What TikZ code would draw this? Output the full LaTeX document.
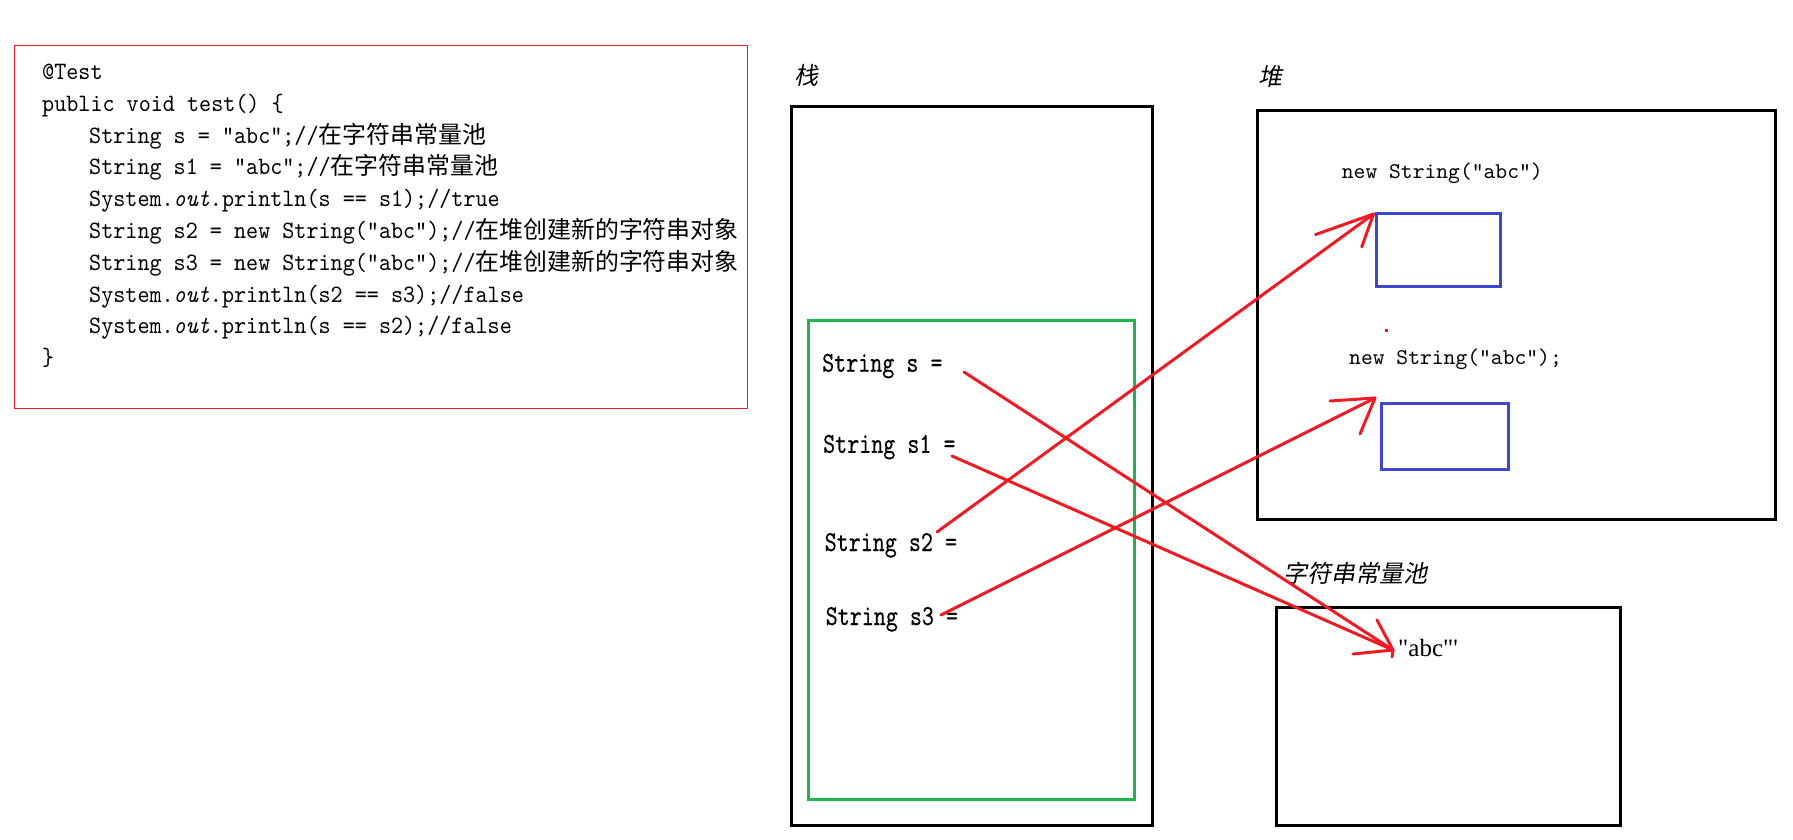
\documentclass[tikz,border=0pt]{standalone}
\usepackage{fontspec}
\newfontfamily\cjk{Noto Sans CJK SC}
\newfontfamily\cjkit{Noto Sans CJK SC}[FakeSlant=0.2]
\newfontfamily\codefont{lmmono10-regular.otf}[FakeStretch=0.92,ItalicFont=lmmono10-italic.otf]
\newfontfamily\stackfont{lmmono10-regular.otf}[FakeStretch=0.79,FakeBold=0.3]
\newfontfamily\heapfont{lmmono10-regular.otf}
\newfontfamily\poolfont{Liberation Serif}
\definecolor{pred}{RGB}{237,28,36}
\definecolor{pgreen}{RGB}{34,177,76}
\definecolor{pblue}{RGB}{63,72,204}
\newcommand\zh[1]{{\cjk\fontsize{23.9}{30}\selectfont #1}}
\begin{document}
\begin{tikzpicture}[x=1pt,y=-1pt,
  box/.style={draw, line width=3pt, inner sep=0pt, anchor=north west},
  codeline/.style={anchor=base west, inner sep=0pt, font=\codefont\fontsize{25}{30}\selectfont},
  stacktxt/.style={anchor=base west, inner sep=0pt, font=\stackfont\fontsize{29}{32}\selectfont},
  heaptxt/.style={anchor=base west, inner sep=0pt, font=\heapfont\fontsize{22.5}{28}\selectfont},
  lbl/.style={inner sep=0pt, font=\cjkit\fontsize{24}{26}\selectfont},
  rl/.style={draw=pred, line width=3pt, line cap=round}
]
\fill[white] (0,0) rectangle (1793,839);
\useasboundingbox (0,0) rectangle (1793,839);

% code box
\node[draw=pred, line width=1pt, inner sep=0pt, anchor=north west,
      minimum width=733pt, minimum height=363.6pt] (code) at (13.7,44.6) {};
\node[codeline] (c0) at (42,79.5) {@Test};
\node[codeline] (c1) at (42,111.3) {public void test() \{};
\node[codeline] (c2) at (89,143.1) {String s = "abc";//\zh{在字符串常量池}};
\node[codeline] (c3) at (89,174.9) {String s1 = "abc";//\zh{在字符串常量池}};
\node[codeline] (c4) at (89,206.7) {System.\textit{out}.println(s == s1);//true};
\node[codeline] (c5) at (89,238.5) {String s2 = new String("abc");//\zh{在堆创建新的字符串对象}};
\node[codeline] (c6) at (89,270.3) {String s3 = new String("abc");//\zh{在堆创建新的字符串对象}};
\node[codeline] (c7) at (89,302.1) {System.\textit{out}.println(s2 == s3);//false};
\node[codeline] (c8) at (89,333.9) {System.\textit{out}.println(s == s2);//false};
\node[codeline] (c9) at (42,365.7) {\}};

% stack
\node[lbl] (lstack) at (806,75) {栈};
\node[box, minimum width=361pt, minimum height=719pt] (stack) at (790,105) {};
\node[box, draw=pgreen, minimum width=326pt, minimum height=479pt] (frame) at (807,319) {};
\node[stacktxt] (vs)  at (822,371.7) {String s =};
\node[stacktxt] (vs1) at (823,452.8) {String s1 =};
\node[stacktxt] (vs2) at (824.5,551) {String s2 =};
\node[stacktxt] (vs3) at (825.5,625) {String s3 =};

% heap
\node[lbl] (lheap) at (1270,76) {堆};
\node[box, minimum width=518pt, minimum height=409pt] (heap) at (1256,109) {};
\node[heaptxt] (h1txt) at (1341.7,178.3) {new String("abc")};
\node[box, draw=pblue, minimum width=124pt, minimum height=73pt] (obj1) at (1375,212) {};
\node[fill=pred, minimum size=3pt, inner sep=0pt] (dot) at (1386,330) {};
\node[heaptxt] (h2txt) at (1349,364) {new String("abc");};
\node[box, draw=pblue, minimum width=127pt, minimum height=66pt] (obj2) at (1380,402) {};

% string constant pool
\node[lbl, anchor=west] (lpool) at (1283,573) {字符串常量池};
\node[box, minimum width=344pt, minimum height=218pt] (pool) at (1275,605.5) {};
\node[anchor=base west, inner sep=0pt, font=\poolfont\fontsize{25}{30}\selectfont] (abc) at (1398,656.7) {"abc"'};

% connectors
\coordinate (sA) at (964,372);
\coordinate (sB) at (952,456);
\coordinate (sC) at (937,532);
\coordinate (sD) at (941,615);
\coordinate (tPool) at (1393,650);
\coordinate (tH1) at (1373.5,214);
\coordinate (tH2) at (1375,398);

\draw[rl] (sA) -- (tPool);
\draw[rl] (sB) -- (tPool);
\draw[rl] (tPool) -- ++(-40,4);
\draw[rl] (tPool) -- ++(-16,-30);
\draw[rl] (tPool) -- ++(-1,7);

\draw[rl] (sC) -- (tH1);
\draw[rl] (tH1) -- ++(-58,20.6);
\draw[rl] (tH1) -- ++(-11.8,33);

\draw[rl] (sD) -- (tH2);
\draw[rl] (tH2) -- ++(-45,3);
\draw[rl] (tH2) -- ++(-15,36);
\end{tikzpicture}
\end{document}
